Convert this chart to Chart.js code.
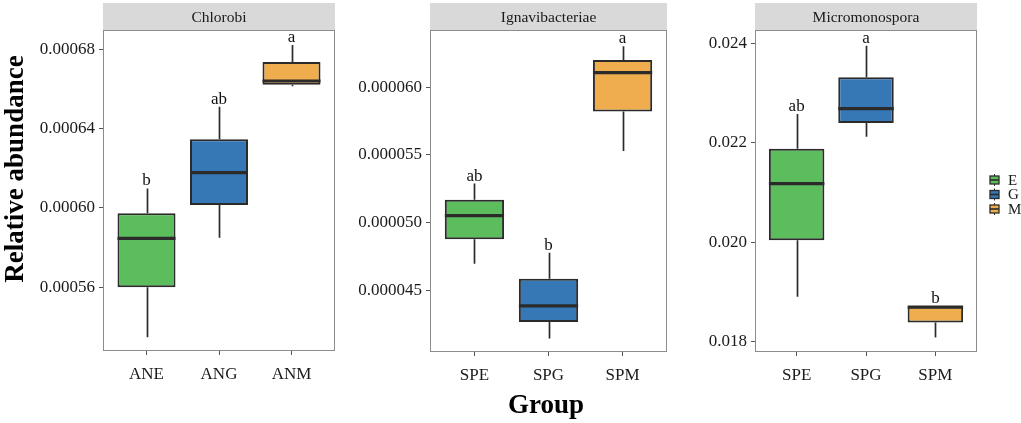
<!DOCTYPE html>
<html>
<head>
<meta charset="utf-8">
<script src="https://cdn.jsdelivr.net/npm/chart.js@4"></script>
<style>
  html, body { margin: 0; padding: 0; background: #ffffff; }
  #wrap { position: relative; width: 1021px; height: 423px; overflow: hidden; background: #fff; }
  canvas { position: absolute; top: 0; }
</style>
</head>
<body>
<div id="wrap">
  <canvas id="p1" width="340" height="423" style="left:0px"></canvas>
  <canvas id="p2" width="340" height="423" style="left:340px"></canvas>
  <canvas id="p3" width="341" height="423" style="left:680px"></canvas>
</div>
<script>
// ---------------- DATA ----------------
const groupNames = ['E', 'G', 'M'];

const chlorobiCats = ['ANE', 'ANG', 'ANM'];
const chlorobiMin = [0.0005348, 0.0005849, 0.0006613];
const chlorobiQ1  = [0.0005600, 0.0006014, 0.0006620];
const chlorobiMed = [0.0005846, 0.0006178, 0.0006639];
const chlorobiQ3  = [0.0005973, 0.0006346, 0.0006735];
const chlorobiMax = [0.0006098, 0.0006509, 0.0006820];
const chlorobiLetters = ['b', 'ab', 'a'];
const chlorobiTicks = [0.00056, 0.00060, 0.00064, 0.00068];
const chlorobiTickLabels = ['0.00056', '0.00060', '0.00064', '0.00068'];
const chlorobiRange = [0.0005279, 0.0006896];

const ignaCats = ['SPE', 'SPG', 'SPM'];
const ignaMin = [0.0000470, 0.0000415, 0.0000553];
const ignaQ1  = [0.0000488, 0.0000427, 0.0000582];
const ignaMed = [0.00005054, 0.0000439, 0.00006106];
const ignaQ3  = [0.0000517, 0.0000459, 0.0000620];
const ignaMax = [0.0000529, 0.0000478, 0.0000630];
const ignaLetters = ['ab', 'b', 'a'];
const ignaTicks = [0.000045, 0.000050, 0.000055, 0.000060];
const ignaTickLabels = ['0.000045', '0.000050', '0.000055', '0.000060'];
const ignaRange = [0.0000405, 0.0000642];

const microCats = ['SPE', 'SPG', 'SPM'];
const microMin = [0.01890, 0.02212, 0.01808];
const microQ1  = [0.020034, 0.022396, 0.018382];
const microMed = [0.021175, 0.022684, 0.018690];
const microQ3  = [0.02188, 0.023316, 0.018704];
const microMax = [0.022577, 0.023952, 0.018704];
const microLetters = ['ab', 'a', 'b'];
const microTicks = [0.018, 0.020, 0.022, 0.024];
const microTickLabels = ['0.018', '0.020', '0.022', '0.024'];
const microRange = [0.017787, 0.024268];

// ---------------- STYLE ----------------
const FILLS = ['#5cbd5c', '#3677b5', '#f0ad4e'];
const DARK = '#2b2b2b';
const SERIF = '"Liberation Serif", "DejaVu Serif", serif';

function makePanel(id, title, cats, mins, q1s, meds, q3s, maxs, letters, ticks, tickLabels, range, area, extra) {
  const canvas = document.getElementById(id);
  const W = canvas.width, H = canvas.height;

  const extrasPlugin = {
    id: 'boxExtras_' + id,
    beforeDatasetsDraw(chart) {
      const ctx = chart.ctx, ca = chart.chartArea;
      const xs = chart.scales.x, ys = chart.scales.y;
      ctx.save();
      // strip header
      ctx.fillStyle = '#d9d9d9';
      ctx.fillRect(ca.left, 3, ca.right - ca.left, ca.top - 3);
      ctx.fillStyle = '#1a1a1a';
      ctx.font = '15.5px ' + SERIF;
      ctx.textAlign = 'center';
      ctx.textBaseline = 'middle';
      ctx.fillText(title, (ca.left + ca.right) / 2, (ca.top + 3) / 2 + 1);
      // whiskers
      ctx.strokeStyle = DARK;
      ctx.lineWidth = 1.7;
      for (let i = 0; i < cats.length; i++) {
        const x = Math.round(xs.getPixelForValue(i + 1)) + 0.5;
        ctx.beginPath();
        ctx.moveTo(x, ys.getPixelForValue(maxs[i]));
        ctx.lineTo(x, ys.getPixelForValue(q3s[i]));
        ctx.moveTo(x, ys.getPixelForValue(q1s[i]));
        ctx.lineTo(x, ys.getPixelForValue(mins[i]));
        ctx.stroke();
      }
      ctx.restore();
    },
    afterDatasetsDraw(chart) {
      const ctx = chart.ctx, ca = chart.chartArea;
      const xs = chart.scales.x, ys = chart.scales.y;
      const meta = chart.getDatasetMeta(0);
      ctx.save();
      // medians
      ctx.strokeStyle = DARK;
      ctx.lineWidth = 3.2;
      for (let i = 0; i < cats.length; i++) {
        const bar = meta.data[i];
        const x = xs.getPixelForValue(i + 1);
        const w = bar.width;
        const y = ys.getPixelForValue(meds[i]);
        ctx.beginPath();
        ctx.moveTo(x - w / 2, y);
        ctx.lineTo(x + w / 2, y);
        ctx.stroke();
      }
      // letters
      ctx.fillStyle = '#111';
      ctx.font = '17px ' + SERIF;
      ctx.textAlign = 'center';
      ctx.textBaseline = 'alphabetic';
      for (let i = 0; i < cats.length; i++) {
        const x = xs.getPixelForValue(i + 1);
        ctx.fillText(letters[i], x, ys.getPixelForValue(maxs[i]) - 3);
      }
      // panel border
      ctx.strokeStyle = '#8c8c8c';
      ctx.lineWidth = 1;
      ctx.strokeRect(ca.left + 0.5, ca.top + 0.5, ca.right - ca.left - 1, ca.bottom - ca.top - 1);
      ctx.restore();
    },
    afterDraw(chart) {
      if (extra) extra(chart);
    }
  };

  return new Chart(canvas, {
    type: 'bar',
    data: {
      datasets: [{
        data: cats.map((c, i) => ({ x: i + 1, y: [q1s[i], q3s[i]] })),
        backgroundColor: FILLS,
        borderColor: DARK,
        borderWidth: 2,
        borderSkipped: false,
        categoryPercentage: 1,
        barPercentage: 0.8
      }]
    },
    options: {
      responsive: false,
      animation: false,
      devicePixelRatio: 1,
      layout: { padding: { left: 0, top: area.top, right: W - area.right, bottom: 0 } },
      plugins: { legend: { display: false }, tooltip: { enabled: false } },
      scales: {
        x: {
          type: 'linear',
          offset: false,
          min: 0.4, max: 3.6,
          afterBuildTicks(scale) { scale.ticks = cats.map((c, i) => ({ value: i + 1 })); },
          afterFit(scale) { scale.height = H - area.bottom; },
          ticks: {
            callback: (v) => cats[Math.round(v) - 1],
            font: { family: SERIF, size: 17 },
            color: '#1a1a1a',
            padding: 9,
            maxRotation: 0, autoSkip: false
          },
          grid: { display: true, offset: false, drawOnChartArea: false, drawTicks: true, tickLength: 4, color: '#555', tickWidth: 1 },
          border: { display: false }
        },
        y: {
          type: 'linear',
          min: range[0], max: range[1],
          afterBuildTicks(scale) { scale.ticks = ticks.map(v => ({ value: v })); },
          afterFit(scale) { scale.width = area.left; },
          ticks: {
            callback: (v) => { const k = ticks.findIndex(t => Math.abs(t - v) < 1e-12); return k >= 0 ? tickLabels[k] : ''; },
            font: { family: SERIF, size: 17 },
            color: '#1a1a1a',
            padding: 4
          },
          grid: { display: true, drawOnChartArea: false, drawTicks: true, tickLength: 4, color: '#555', tickWidth: 1 },
          border: { display: false }
        }
      }
    },
    plugins: [extrasPlugin]
  });
}

makePanel('p1', 'Chlorobi', chlorobiCats, chlorobiMin, chlorobiQ1, chlorobiMed, chlorobiQ3, chlorobiMax,
  chlorobiLetters, chlorobiTicks, chlorobiTickLabels, chlorobiRange,
  { left: 103, right: 335, top: 30, bottom: 351 },
  (chart) => {
    const ctx = chart.ctx;
    ctx.save();
    ctx.translate(23, 169);
    ctx.rotate(-Math.PI / 2);
    ctx.fillStyle = '#000';
    ctx.font = 'bold 27px ' + SERIF;
    ctx.textAlign = 'center';
    ctx.textBaseline = 'alphabetic';
    ctx.fillText('Relative abundance', 0, 0);
    ctx.restore();
  });

makePanel('p2', 'Ignavibacteriae', ignaCats, ignaMin, ignaQ1, ignaMed, ignaQ3, ignaMax,
  ignaLetters, ignaTicks, ignaTickLabels, ignaRange,
  { left: 90, right: 327, top: 30, bottom: 352 },
  (chart) => {
    const ctx = chart.ctx;
    ctx.save();
    ctx.fillStyle = '#000';
    ctx.font = 'bold 27px ' + SERIF;
    ctx.textAlign = 'center';
    ctx.textBaseline = 'alphabetic';
    ctx.fillText('Group', 206, 413);
    ctx.restore();
  });

makePanel('p3', 'Micromonospora', microCats, microMin, microQ1, microMed, microQ3, microMax,
  microLetters, microTicks, microTickLabels, microRange,
  { left: 75, right: 297, top: 30, bottom: 352 },
  (chart) => {
    const ctx = chart.ctx;
    ctx.save();
    const gx = 314, tx = 328;
    groupNames.forEach((g, i) => {
      const cy = 180 + i * 14.5;
      ctx.strokeStyle = DARK;
      ctx.lineWidth = 1;
      ctx.beginPath();
      ctx.moveTo(gx + 0.5, cy - 6);
      ctx.lineTo(gx + 0.5, cy + 6);
      ctx.stroke();
      ctx.fillStyle = FILLS[i];
      ctx.fillRect(gx - 4, cy - 4, 9, 8);
      ctx.lineWidth = 1.3;
      ctx.strokeRect(gx - 4, cy - 4, 9, 8);
      ctx.lineWidth = 1.6;
      ctx.beginPath();
      ctx.moveTo(gx - 4, cy);
      ctx.lineTo(gx + 5, cy);
      ctx.stroke();
      ctx.fillStyle = '#1a1a1a';
      ctx.font = '15px ' + SERIF;
      ctx.textAlign = 'left';
      ctx.textBaseline = 'middle';
      ctx.fillText(g, tx, cy + 1);
    });
    ctx.restore();
  });
</script>
</body>
</html>
